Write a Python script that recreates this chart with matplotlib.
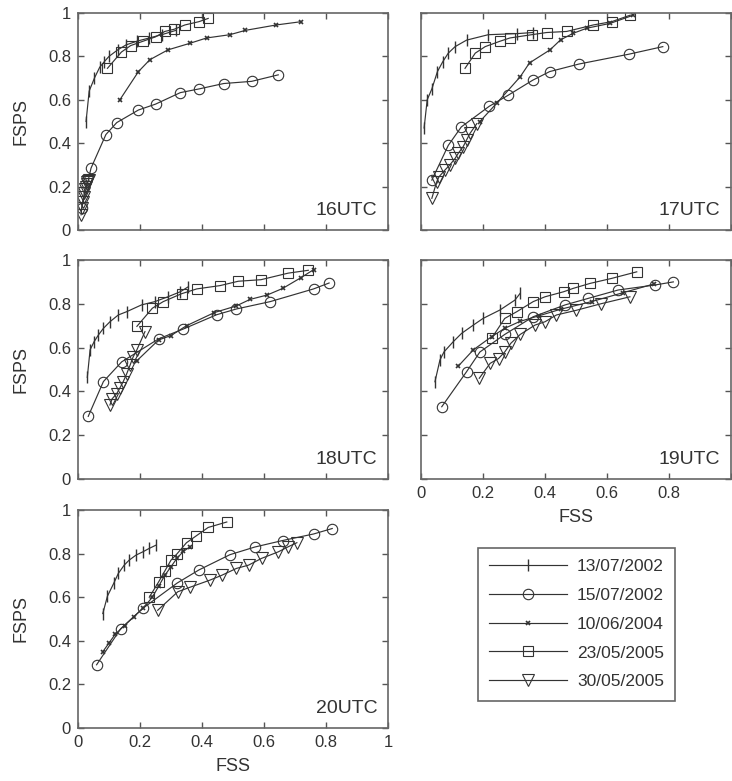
import numpy as np
import matplotlib
matplotlib.use('Agg')
import matplotlib.pyplot as plt
from matplotlib.ticker import FuncFormatter

plt.rcParams['font.family'] = ['Liberation Sans', 'DejaVu Sans']

dates = ['13/07/2002', '15/07/2002', '10/06/2004', '23/05/2005', '30/05/2005']
hours = ['16UTC', '17UTC', '18UTC', '19UTC', '20UTC']

# 16UTC
fss16_a = [0.026, 0.036, 0.053, 0.07, 0.085, 0.10, 0.128, 0.155, 0.19, 0.23, 0.27, 0.316]
fsps16_a = [0.50, 0.64, 0.70, 0.75, 0.776, 0.80, 0.83, 0.853, 0.87, 0.885, 0.90, 0.92]
fss16_b = [0.012, 0.042, 0.09, 0.125, 0.195, 0.25, 0.33, 0.39, 0.47, 0.56, 0.646]
fsps16_b = [0.10, 0.285, 0.44, 0.495, 0.553, 0.58, 0.633, 0.65, 0.675, 0.685, 0.715]
fss16_c = [0.135, 0.195, 0.232, 0.29, 0.36, 0.415, 0.49, 0.54, 0.64, 0.72]
fsps16_c = [0.60, 0.73, 0.785, 0.83, 0.86, 0.885, 0.90, 0.92, 0.945, 0.96]
fss16_d = [0.095, 0.14, 0.17, 0.21, 0.25, 0.28, 0.31, 0.345, 0.39, 0.42]
fsps16_d = [0.745, 0.82, 0.85, 0.87, 0.89, 0.915, 0.925, 0.945, 0.96, 0.975]
fss16_e = [0.01, 0.012, 0.015, 0.018, 0.02, 0.023, 0.026, 0.028, 0.03, 0.033, 0.036]
fsps16_e = [0.07, 0.10, 0.13, 0.15, 0.17, 0.19, 0.20, 0.21, 0.22, 0.225, 0.23]

# 17UTC
fss17_a = [0.01, 0.02, 0.035, 0.053, 0.07, 0.088, 0.11, 0.147, 0.217, 0.31, 0.36]
fsps17_a = [0.47, 0.60, 0.65, 0.73, 0.775, 0.815, 0.845, 0.875, 0.90, 0.905, 0.91]
fss17_b = [0.035, 0.088, 0.13, 0.22, 0.28, 0.36, 0.415, 0.51, 0.67, 0.78]
fsps17_b = [0.23, 0.39, 0.475, 0.57, 0.62, 0.69, 0.73, 0.765, 0.81, 0.845]
fss17_c = [0.19, 0.244, 0.32, 0.35, 0.416, 0.45, 0.49, 0.535, 0.61, 0.685]
fsps17_c = [0.50, 0.584, 0.706, 0.77, 0.83, 0.876, 0.906, 0.93, 0.952, 0.99]
fss17_d = [0.142, 0.175, 0.207, 0.255, 0.287, 0.357, 0.405, 0.47, 0.556, 0.615, 0.675]
fsps17_d = [0.745, 0.815, 0.845, 0.87, 0.885, 0.90, 0.91, 0.915, 0.945, 0.96, 0.99]
fss17_e = [0.035, 0.05, 0.058, 0.077, 0.093, 0.11, 0.12, 0.136, 0.147, 0.158, 0.18]
fsps17_e = [0.146, 0.22, 0.245, 0.276, 0.30, 0.33, 0.353, 0.384, 0.415, 0.445, 0.49]

# 18UTC
fss18_a = [0.03, 0.039, 0.052, 0.066, 0.082, 0.103, 0.13, 0.157, 0.205, 0.248, 0.29, 0.33, 0.356]
fsps18_a = [0.464, 0.59, 0.627, 0.658, 0.688, 0.718, 0.749, 0.764, 0.795, 0.81, 0.832, 0.855, 0.878]
fss18_b = [0.033, 0.082, 0.141, 0.26, 0.34, 0.447, 0.51, 0.62, 0.76, 0.81]
fsps18_b = [0.286, 0.445, 0.535, 0.64, 0.685, 0.75, 0.776, 0.81, 0.868, 0.895]
fss18_c = [0.19, 0.26, 0.30, 0.35, 0.44, 0.51, 0.555, 0.61, 0.66, 0.72, 0.76]
fsps18_c = [0.54, 0.635, 0.655, 0.70, 0.76, 0.79, 0.82, 0.84, 0.87, 0.92, 0.956]
fss18_d = [0.19, 0.24, 0.275, 0.334, 0.383, 0.458, 0.517, 0.59, 0.678, 0.743]
fsps18_d = [0.697, 0.78, 0.81, 0.846, 0.868, 0.883, 0.903, 0.91, 0.94, 0.953]
fss18_e = [0.103, 0.11, 0.125, 0.135, 0.146, 0.157, 0.168, 0.178, 0.19, 0.216]
fsps18_e = [0.338, 0.366, 0.39, 0.415, 0.445, 0.48, 0.52, 0.558, 0.59, 0.673]

# 19UTC
fss19_a = [0.045, 0.061, 0.074, 0.104, 0.131, 0.169, 0.20, 0.255, 0.303, 0.32]
fsps19_a = [0.444, 0.543, 0.58, 0.627, 0.665, 0.703, 0.733, 0.772, 0.817, 0.848]
fss19_b = [0.067, 0.147, 0.19, 0.27, 0.362, 0.465, 0.54, 0.636, 0.755, 0.814]
fsps19_b = [0.33, 0.49, 0.58, 0.66, 0.741, 0.795, 0.825, 0.863, 0.886, 0.90]
fss19_c = [0.12, 0.169, 0.228, 0.27, 0.32, 0.38, 0.45, 0.55, 0.65, 0.75]
fsps19_c = [0.515, 0.59, 0.65, 0.688, 0.72, 0.745, 0.775, 0.81, 0.85, 0.89]
fss19_d = [0.228, 0.27, 0.309, 0.362, 0.40, 0.46, 0.49, 0.545, 0.615, 0.696]
fsps19_d = [0.643, 0.733, 0.764, 0.81, 0.832, 0.855, 0.87, 0.893, 0.916, 0.946]
fss19_e = [0.188, 0.223, 0.25, 0.27, 0.29, 0.32, 0.368, 0.40, 0.437, 0.50, 0.58, 0.674]
fsps19_e = [0.46, 0.528, 0.55, 0.58, 0.62, 0.66, 0.703, 0.718, 0.749, 0.77, 0.80, 0.832]

# 20UTC
fss20_a = [0.08, 0.095, 0.115, 0.13, 0.149, 0.165, 0.187, 0.209, 0.23, 0.252]
fsps20_a = [0.525, 0.605, 0.663, 0.709, 0.747, 0.77, 0.793, 0.808, 0.824, 0.839]
fss20_b = [0.06, 0.138, 0.21, 0.32, 0.39, 0.49, 0.57, 0.66, 0.76, 0.82]
fsps20_b = [0.29, 0.456, 0.55, 0.665, 0.725, 0.795, 0.83, 0.86, 0.89, 0.915]
fss20_c = [0.08, 0.10, 0.12, 0.15, 0.18, 0.21, 0.24, 0.26, 0.28, 0.30, 0.32, 0.34, 0.36]
fsps20_c = [0.35, 0.39, 0.43, 0.47, 0.51, 0.55, 0.60, 0.65, 0.70, 0.74, 0.78, 0.81, 0.83]
fss20_d = [0.23, 0.26, 0.28, 0.30, 0.32, 0.35, 0.38, 0.42, 0.48]
fsps20_d = [0.60, 0.67, 0.72, 0.77, 0.80, 0.85, 0.88, 0.92, 0.945]
fss20_e = [0.257, 0.322, 0.36, 0.425, 0.463, 0.511, 0.55, 0.592, 0.646, 0.679, 0.706]
fsps20_e = [0.54, 0.625, 0.645, 0.678, 0.70, 0.732, 0.747, 0.778, 0.808, 0.832, 0.85]

panels = [
    [(fss16_a, fsps16_a), (fss16_b, fsps16_b), (fss16_c, fsps16_c), (fss16_d, fsps16_d), (fss16_e, fsps16_e)],
    [(fss17_a, fsps17_a), (fss17_b, fsps17_b), (fss17_c, fsps17_c), (fss17_d, fsps17_d), (fss17_e, fsps17_e)],
    [(fss18_a, fsps18_a), (fss18_b, fsps18_b), (fss18_c, fsps18_c), (fss18_d, fsps18_d), (fss18_e, fsps18_e)],
    [(fss19_a, fsps19_a), (fss19_b, fsps19_b), (fss19_c, fsps19_c), (fss19_d, fsps19_d), (fss19_e, fsps19_e)],
    [(fss20_a, fsps20_a), (fss20_b, fsps20_b), (fss20_c, fsps20_c), (fss20_d, fsps20_d), (fss20_e, fsps20_e)],
]

ink = '#333333'
styles = [
    dict(marker='|', ms=8, mew=1.0),
    dict(marker='o', ms=7.5, mfc='none', mew=0.8),
    dict(marker='x', ms=3.5, mew=1.2),
    dict(marker='s', ms=7, mfc='none', mew=0.8),
    dict(marker='v', ms=8, mfc='none', mew=0.8),
]

W, H = 732, 781
fig = plt.figure(figsize=(W / 100, H / 100), dpi=100)

# axes boxes in pixels: left, top, width, height
boxes = [(78, 13, 310, 217), (421, 13, 310, 217),
         (78, 260, 310, 219), (421, 260, 310, 219),
         (78, 510, 310, 218)]

fmt = FuncFormatter(lambda v, p: '%g' % round(v, 1))
fmt_cut = FuncFormatter(lambda v, p: '' if v > 0.9 else '%g' % round(v, 1))
handles = []
for i, (l, t, w, h) in enumerate(boxes):
    ax = fig.add_axes([l / W, 1 - (t + h) / H, w / W, h / H])
    for j, (xs, ys) in enumerate(panels[i]):
        ln, = ax.plot(xs, ys, color=ink, lw=0.85, mec=ink, **styles[j])
        if i == 0:
            handles.append(ln)
    ax.set_xlim(0, 1)
    ax.set_ylim(0, 1)
    ax.set_xticks(np.arange(0, 1.01, 0.2))
    ax.set_yticks(np.arange(0, 1.01, 0.2))
    # the right column's "1" falls off the page in the original
    ax.xaxis.set_major_formatter(fmt_cut if i == 3 else fmt)
    ax.yaxis.set_major_formatter(fmt)
    ax.tick_params(direction='in', top=True, right=True, length=4, width=1,
                   color='#555555', labelsize=12, labelcolor=ink, pad=5)
    for s in ax.spines.values():
        s.set_color('#666666')
        s.set_linewidth(1.2)
    if i in (0, 1, 2):
        ax.tick_params(labelbottom=False)
    if i in (1, 3):
        ax.tick_params(labelleft=False)
    else:
        ax.set_ylabel('FSPS', fontsize=13, color=ink, labelpad=13)
    if i in (3, 4):
        ax.set_xlabel('FSS', fontsize=13, color=ink, labelpad=6)
    ax.text(0.965, 0.05, hours[i], transform=ax.transAxes, ha='right', va='bottom',
            fontsize=14, color=ink)

leg = fig.legend(handles, dates, loc='upper left', bbox_to_anchor=(478 / W, 1 - 548 / H),
                 borderaxespad=0, fontsize=12.5, handlelength=4.5, handletextpad=0.55,
                 labelspacing=0.78, borderpad=0.65, fancybox=False, framealpha=1,
                 edgecolor='#666666', labelcolor=ink)
leg.get_frame().set_linewidth(1.2)

fig.savefig('out.png', dpi=100)
